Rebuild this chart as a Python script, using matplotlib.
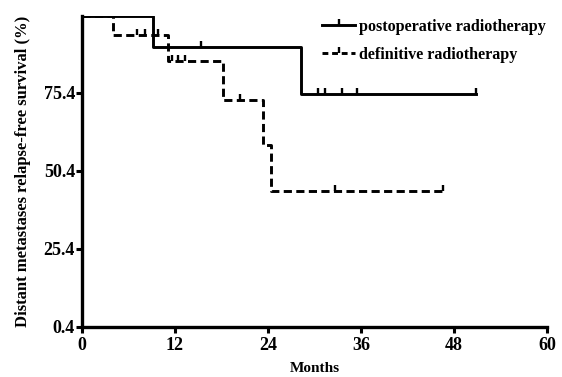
import numpy as np
import matplotlib.pyplot as plt
from matplotlib.lines import Line2D

# step data (months, survival %)
post_t = [0, 9.1, 28.3, 50.8]
post_s = [100, 90, 75, 75]
post_cens_t = [7.2, 8.1, 15.4, 30.5, 31.4, 33.5, 35.5, 50.8]
post_cens_s = [100, 100, 90, 75, 75, 75, 75, 75]

def_t = [0, 4.0, 11.1, 18.2, 23.3, 24.4, 46.6]
def_s = [100, 94, 85.5, 73, 58.5, 44, 44]
def_cens_t = [7.05, 8.1, 9.8, 11.6, 12.4, 13.3, 20.4, 32.6, 46.6]
def_cens_s = [94, 94, 94, 85.5, 85.5, 85.5, 73, 44, 44]

xticks = [0, 12, 24, 36, 48, 60]
yticks = [0.4, 25.4, 50.4, 75.4]

plt.rcParams['font.family'] = ['Liberation Serif', 'DejaVu Serif']
plt.rcParams['font.weight'] = 'bold'

fig = plt.figure(figsize=(5.62, 3.77), dpi=100)
ax = fig.add_axes([0.146, 0.133, 0.827, 0.825])

# upward censor tick
tick = [(0, 0), (0, 1)]
lw = 2.1
ms = 8
mew = 1.7
ax.step(post_t, post_s, where='post', color='black', lw=lw)
ax.plot(post_cens_t, post_cens_s, ls='none', marker=tick, ms=ms, mew=mew, color='black')
ax.step(def_t, def_s, where='post', color='black', lw=lw, dashes=(2.8, 1.5))
ax.plot(def_cens_t, def_cens_s, ls='none', marker=tick, ms=ms, mew=mew, color='black')

# legend handles with censor tick
h1 = Line2D([0, 0.5, 1], [0, 0, 0], color='black', lw=lw, marker=tick, ms=ms, mew=mew,
            markevery=[1])
h2 = Line2D([0, 0.5, 1], [0, 0, 0], color='black', lw=lw, dashes=(2.0, 1.3),
            marker=tick, ms=ms, mew=mew, markevery=[1])
ax.legend([h1, h2], ['postoperative radiotherapy', 'definitive radiotherapy'],
          loc='upper left', bbox_to_anchor=(322 / 562, 1 - 19 / 377),
          bbox_transform=fig.transFigure, frameon=False, borderpad=0, borderaxespad=0,
          handlelength=2.05, handletextpad=0.25, labelspacing=0.75,
          prop={'weight': 'bold', 'size': 11.6})

ax.set_xlim(0, 60)
ax.set_ylim(0.4, 100)
ax.set_xticks(xticks)
ax.set_yticks(yticks)
ax.set_yticklabels([f'{v:.1f}' for v in yticks])
for s in ['top', 'right']:
    ax.spines[s].set_visible(False)
for s in ['left', 'bottom']:
    ax.spines[s].set_linewidth(2.4)
ax.tick_params(direction='out', length=4, width=2.2, labelsize=13, pad=1)
ax.tick_params(axis='x', pad=3)
for lab in ax.get_xticklabels() + ax.get_yticklabels():
    lab.set_fontweight('bold')

ax.set_xlabel('Months', fontsize=11, fontweight='bold', labelpad=6)
ax.set_ylabel('Distant metastases relapse-free survival (%)', fontsize=12,
              fontweight='bold', labelpad=9)

fig.savefig('out.png', dpi=100)
